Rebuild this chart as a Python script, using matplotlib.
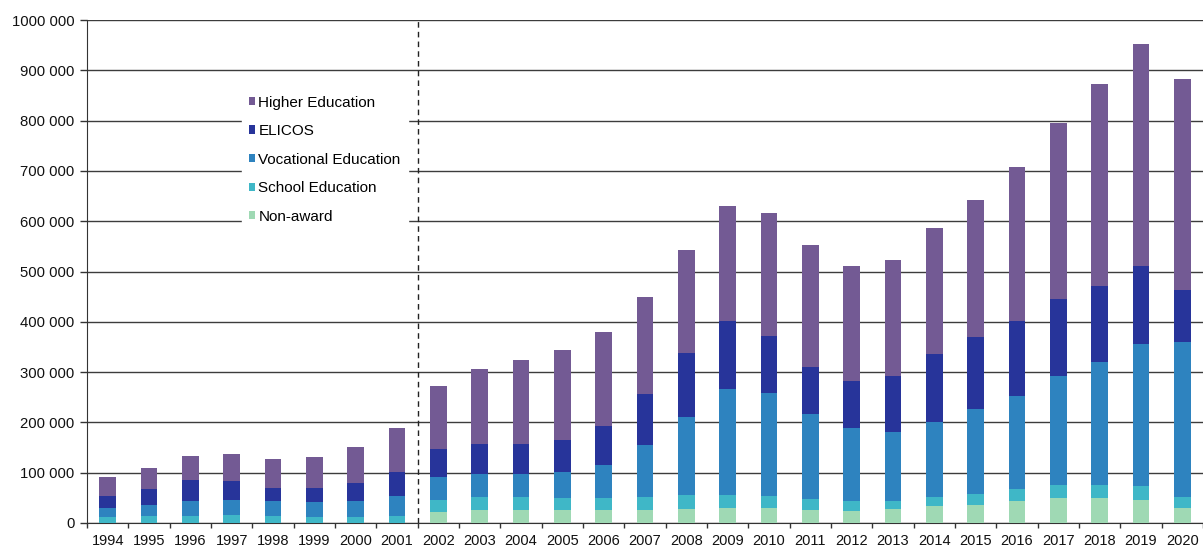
import matplotlib
matplotlib.use("Agg")
import matplotlib.pyplot as plt
import numpy as np
from matplotlib.ticker import FuncFormatter

years = [str(y) for y in range(1994, 2021)]

non_award = [0, 0, 0, 0, 0, 0, 0, 0,
             21900, 25200, 25200, 25200, 25200, 25200, 28500, 29800, 29800,
             26500, 23800, 27500, 33300, 36000, 43400, 49200, 49200, 46500, 30600]
school = [12600, 13300, 14600, 16600, 13900, 11900, 11900, 13900,
          24500, 26500, 26500, 23800, 23800, 26500, 27800, 26500, 23900,
          21000, 20500, 17000, 18700, 21000, 24000, 26200, 26200, 26500, 20700]
vocational = [17900, 21800, 29100, 29800, 29800, 29200, 31800, 39800,
              45000, 45100, 45100, 52400, 66300, 103300, 154400, 210100, 205000,
              169000, 144000, 135500, 148800, 169600, 185700, 216000, 245400, 282000, 309200]
elicos = [23800, 33100, 41800, 37100, 25900, 28500, 35200, 48300,
          56400, 60900, 60900, 63600, 77500, 101200, 127900, 135800, 113000,
          93000, 93400, 111600, 135300, 142300, 149300, 154800, 151300, 155500, 103200]
higher = [36500, 40800, 48400, 53000, 57600, 61600, 72800, 86900,
          125200, 148500, 166300, 178900, 186900, 193700, 204100, 228000, 243900,
          244000, 230200, 232200, 249700, 272700, 305400, 348700, 400300, 442100, 418500]

series = [
    ("Non-award", non_award, "#9fd9b4"),
    ("School Education", school, "#3fb7c7"),
    ("Vocational Education", vocational, "#2e83bf"),
    ("ELICOS", elicos, "#27349a"),
    ("Higher Education", higher, "#735a94"),
]

plt.rcParams['font.family'] = ['Liberation Sans', 'DejaVu Sans']

fig = plt.figure(figsize=(12.03, 5.5), dpi=100)
ax = fig.add_axes([87/1203, 27/550, 1 - 87/1203, (523-20)/550])

x = np.arange(len(years))
bottom = np.zeros(len(years))
handles = {}
for name, vals, col in series:
    v = np.array(vals, dtype=float)
    b = ax.bar(x, v, bottom=bottom, width=0.4, color=col, label=name, zorder=3)
    handles[name] = b
    bottom += v

ax.set_xlim(-0.5, len(years) - 0.5)
ax.set_ylim(0, 1000000)
ax.set_yticks(np.arange(0, 1000001, 100000))
ax.yaxis.set_major_formatter(FuncFormatter(lambda v, p: f"{int(v):,}".replace(",", " ").replace("1 000 000", "1000 000")))
ax.yaxis.grid(True, color="#3c3c3c", linewidth=1.0, zorder=0)
ax.set_axisbelow(True)

ax.set_xticks(np.arange(-0.5, len(years), 1))
ax.set_xticklabels([])
ax.set_xticks(x, minor=True)
ax.set_xticklabels(years, minor=True)
ax.tick_params(axis='x', which='major', direction='out', length=3.5, width=1, color='#333333')
ax.tick_params(axis='x', which='minor', length=0, pad=8, labelsize=10.5, labelcolor='#111111')
ax.tick_params(axis='y', direction='out', length=5, width=1, pad=4, labelsize=10.7, labelcolor='#111111', color='#333333')

for s in ['top', 'right']:
    ax.spines[s].set_visible(False)
ax.spines['left'].set_color('#333333')
ax.spines['bottom'].set_color('#333333')

ax.axvline(7.5, color='#222222', linestyle=(0, (4, 3)), linewidth=1.0, zorder=4)

order = ["Higher Education", "ELICOS", "Vocational Education", "School Education", "Non-award"]
leg = ax.legend([handles[n] for n in order], order, loc='upper left',
                bbox_to_anchor=(234/1203, (550-81)/550), bbox_transform=fig.transFigure,
                frameon=True, fancybox=False, edgecolor='white', facecolor='white', framealpha=1,
                fontsize=11, handlelength=0.45, handleheight=0.45, handletextpad=0.2,
                labelspacing=0.95, borderpad=0.45)
leg.set_zorder(5)

fig.savefig("out.png", dpi=100)
